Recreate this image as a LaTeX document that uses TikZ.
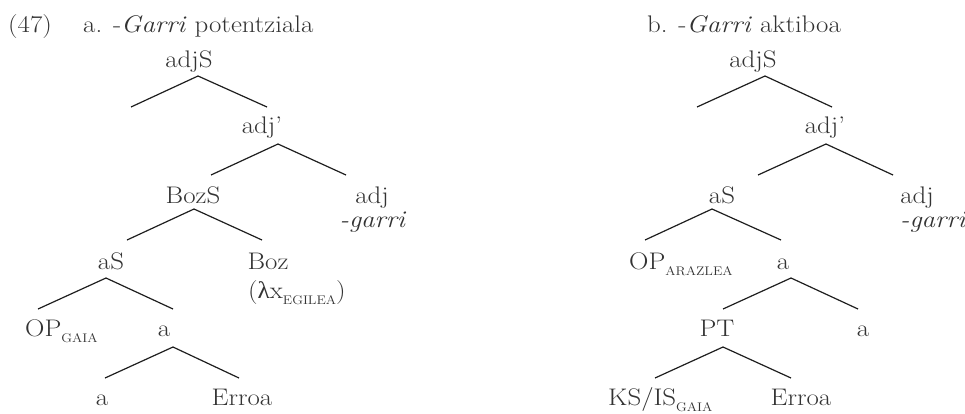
\documentclass[tikz,border=0pt]{standalone}
\usepackage{fontspec}
\setmainfont{Latin Modern Roman}[FakeStretch=1.12]
\newfontfamily\grk{Liberation Serif}[FakeStretch=1.05]
\definecolor{txt}{HTML}{333333}
\definecolor{linec}{HTML}{1E1E1E}
\newcommand{\sbx}[1]{\raisebox{-6.5pt}{\fontsize{12.5}{13}\selectfont #1}}
\begin{document}
\begin{tikzpicture}[x=1pt,y=-1pt,
  lbl/.style={text=txt, inner sep=0pt, anchor=base, font=\fontsize{24}{28}\selectfont},
  lw/.style={lbl, anchor=base west},
  ln/.style={draw=linec, line width=1.2pt, line join=miter}]
\useasboundingbox (0,0) rectangle (965,413);
% titles
\node[lw] (n47) at (8,32) {(47)};
\node[lw] (ta) at (83,32) {a. -\textit{Garri} potentziala};
\node[lw] (tb) at (647,32) {b. -\textit{Garri} aktiboa};
% ---------- left tree ----------
\node[lbl] (LadjS) at (189,67) {adjS};
\node[lbl] (Ladjb) at (262,133) {adj'};
\node[lbl] (LBozS) at (193,203) {BozS};
\node[lbl] (Ladj) at (372,203) {adj};
\node[lbl] (Lgarri) at (373,227) {\textit{-garri}};
\node[lbl] (LaS) at (111,269) {aS};
\node[lbl] (LBoz) at (268,269) {Boz};
\node[lw] (Llam) at (248,298) {({\grk λ}x\sbx{EGILEA})};
\node[lw] (LOP) at (25,336) {OP\sbx{GAIA}};
\node[lbl] (La) at (164,336) {a};
\node[lbl] (La2) at (102,405) {a};
\node[lbl] (LErroa) at (242,405) {Erroa};
% left edges
\coordinate (e1t) at (198,76);  \coordinate (e1l) at (131,107); \coordinate (e1r) at (267,107);
\coordinate (e2t) at (278,144); \coordinate (e2l) at (211,175); \coordinate (e2r) at (346,175);
\coordinate (e3t) at (194,209); \coordinate (e3l) at (127,240); \coordinate (e3r) at (262,240);
\coordinate (e4t) at (106,278); \coordinate (e4l) at (38,309);  \coordinate (e4r) at (173,309);
\coordinate (e5t) at (173,347); \coordinate (e5l) at (105,378); \coordinate (e5r) at (239,378);
\draw[ln] (e1l) -- (e1t) -- (e1r);
\draw[ln] (e2l) -- (e2t) -- (e2r);
\draw[ln] (e3l) -- (e3t) -- (e3r);
\draw[ln] (e4l) -- (e4t) -- (e4r);
\draw[ln] (e5l) -- (e5t) -- (e5r);
% ---------- right tree ----------
\node[lbl] (RadjS) at (753,67) {adjS};
\node[lbl] (Radjb) at (825,133) {adj'};
\node[lbl] (RaS) at (722,203) {aS};
\node[lbl] (Radj) at (917,203) {adj};
\node[lw] (Rgarri) at (900,227) {\textit{-garri}};
\node[lw] (ROP) at (629,269) {OP\sbx{ARAZLEA}};
\node[lbl] (Ra) at (783,269) {a};
\node[lbl] (RPT) at (717,336) {PT};
\node[lbl] (Ra2) at (863,336) {a};
\node[lw] (RKS) at (608,405) {KS/IS\sbx{GAIA}};
\node[lbl] (RErroa) at (801,405) {Erroa};
% right edges
\coordinate (f1t) at (765,76);  \coordinate (f1l) at (697,107); \coordinate (f1r) at (832,107);
\coordinate (f2t) at (826,144); \coordinate (f2l) at (758,175); \coordinate (f2r) at (893,175);
\coordinate (f3t) at (712,209); \coordinate (f3l) at (645,240); \coordinate (f3r) at (781,240);
\coordinate (f4t) at (791,278); \coordinate (f4l) at (723,309); \coordinate (f4r) at (858,309);
\coordinate (f5t) at (723,347); \coordinate (f5l) at (655,378); \coordinate (f5r) at (791,378);
\draw[ln] (f1l) -- (f1t) -- (f1r);
\draw[ln] (f2l) -- (f2t) -- (f2r);
\draw[ln] (f3l) -- (f3t) -- (f3r);
\draw[ln] (f4l) -- (f4t) -- (f4r);
\draw[ln] (f5l) -- (f5t) -- (f5r);
\end{tikzpicture}
\end{document}
